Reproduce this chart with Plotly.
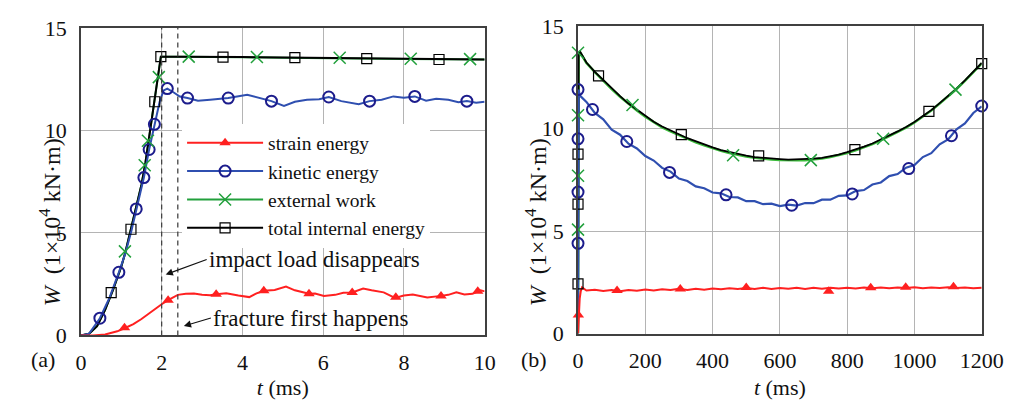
import plotly.graph_objects as go

FONT = "'Liberation Serif', 'Times New Roman', 'DejaVu Serif', serif"

# ---------------- Panel (a): 0-10 ms ----------------
a_ext_t = [0, 0.2, 0.4, 0.6, 0.8, 1.0, 1.1, 1.2, 1.3, 1.4, 1.5, 1.6, 1.7, 1.8, 1.9, 1.98,
           2.5, 3.0, 4.0, 5.0, 6.0, 7.0, 8.0, 9.0, 10.0]
a_ext_w = [0, 0.08, 0.45, 1.25, 2.25, 3.35, 4.05, 4.85, 5.65, 6.5, 7.35, 8.45, 9.8, 11.15, 12.4, 13.6,
           13.6, 13.58, 13.57, 13.55, 13.52, 13.5, 13.49, 13.47, 13.46]
a_tot_w = [0, 0.08, 0.45, 1.25, 2.25, 3.35, 4.05, 4.85, 5.65, 6.5, 7.35, 8.45, 9.8, 11.15, 12.4, 13.6,
           13.6, 13.6, 13.58, 13.56, 13.54, 13.52, 13.5, 13.48, 13.46]

a_kin_t = [0, 0.2, 0.47, 0.7, 0.94, 1.1, 1.25, 1.37, 1.47, 1.56, 1.69, 1.82, 1.95, 2.05, 2.14, 2.3,
           2.45, 2.64, 2.9, 3.2, 3.65, 4.12, 4.45, 4.72, 5.03, 5.3, 5.6, 5.9, 6.14, 6.45, 6.88, 7.15,
           7.45, 7.74, 8.0, 8.27, 8.55, 8.8, 9.1, 9.35, 9.56, 9.79, 10.0]
a_kin_w = [0, 0.08, 0.84, 1.8, 3.08, 4.0, 5.1, 6.17, 6.95, 7.7, 9.07, 10.3, 11.4, 11.95, 12.04, 11.85,
           11.65, 11.58, 11.45, 11.5, 11.58, 11.74, 11.55, 11.43, 11.2, 11.4, 11.5, 11.52, 11.63, 11.43, 11.28, 11.43,
           11.5, 11.66, 11.6, 11.66, 11.45, 11.55, 11.5, 11.38, 11.43, 11.35, 11.4]

a_str_t = [0, 0.3, 0.6, 0.9, 1.08, 1.3, 1.5, 1.7, 1.9, 2.0, 2.16, 2.3, 2.4, 2.6, 2.8, 3.0, 3.2, 3.35,
           3.6, 3.9, 4.17, 4.35, 4.53, 4.8, 5.08, 5.3, 5.65, 5.8, 6.02, 6.3, 6.5, 6.72, 6.99, 7.2, 7.5,
           7.78, 8.0, 8.22, 8.58, 8.92, 9.1, 9.3, 9.5, 9.7, 9.9, 10.0]
a_str_w = [0, 0, 0.05, 0.2, 0.35, 0.55, 0.8, 1.1, 1.4, 1.52, 1.72, 1.88, 1.98, 2.03, 2.05, 1.98, 1.96, 2.01,
           2.06, 1.95, 1.87, 2.05, 2.18, 2.22, 2.38, 2.2, 2.03, 2.05, 1.92, 1.98, 2.08, 2.1, 2.29, 2.2, 2.1,
           1.83, 1.95, 2.0, 1.85, 1.93, 1.98, 2.1, 2.0, 2.03, 2.2, 2.15]

a_ext_mt = [1.09, 1.58, 1.66, 1.93, 2.67, 4.36, 6.41, 8.17, 9.64]
a_ext_mw = [4.1, 8.3, 9.5, 12.6, 13.6, 13.58, 13.55, 13.5, 13.48]
a_tot_mt = [0.75, 1.24, 1.83, 1.98, 3.52, 5.3, 7.08, 8.87]
a_tot_mw = [2.09, 5.18, 11.4, 13.6, 13.58, 13.55, 13.5, 13.46]
a_kin_mt = [0.47, 0.94, 1.37, 1.56, 1.69, 1.82, 2.14, 2.64, 3.65, 4.72, 6.14, 7.15, 8.27, 9.56]
a_kin_mw = [0.84, 3.08, 6.17, 7.7, 9.07, 10.3, 12.04, 11.58, 11.58, 11.43, 11.63, 11.43, 11.66, 11.43]
a_str_mt = [1.08, 2.16, 3.35, 4.53, 5.65, 6.72, 7.80, 8.92, 9.83]
a_str_mw = [0.38, 1.72, 2.01, 2.18, 2.03, 2.1, 1.86, 1.93, 2.15]

event_t = [2.0, 2.4]   # impact load disappears, fracture first happens
event_labels = ["impact load disappears", "fracture first happens"]

# ---------------- Panel (b): 0-1200 ms ----------------
b_t = [0, 1, 2, 5, 25, 50, 75, 100, 125, 150, 175, 200, 225, 250, 275, 300, 325, 350, 375, 400,
       425, 450, 475, 500, 525, 550, 575, 600, 625, 650, 675, 700, 725, 750, 775, 800, 825, 850,
       875, 900, 925, 950, 975, 1000, 1025, 1050, 1075, 1100, 1125, 1150, 1175, 1200]
b_ext = [0, 3.4, 13.6, 13.75, 13.2, 12.75, 12.33, 11.93, 11.55, 11.2, 10.88, 10.58, 10.3, 10.06, 9.86,
         9.68, 9.5, 9.33, 9.18, 9.04, 8.92, 8.81, 8.72, 8.64, 8.58, 8.53, 8.49, 8.47, 8.45, 8.45, 8.46,
         8.49, 8.54, 8.61, 8.7, 8.81, 8.94, 9.08, 9.24, 9.42, 9.62, 9.83, 10.05, 10.3, 10.58, 10.88,
         11.22, 11.57, 11.93, 12.33, 12.74, 13.18]
b_tot = [0, 3.4, 13.6, 13.78, 13.22, 12.77, 12.36, 11.95, 11.58, 11.22, 10.91, 10.61, 10.33, 10.1, 9.89,
         9.72, 9.53, 9.37, 9.21, 9.08, 8.95, 8.85, 8.75, 8.68, 8.61, 8.57, 8.52, 8.51, 8.48, 8.49, 8.49,
         8.53, 8.57, 8.65, 8.73, 8.85, 8.97, 9.12, 9.27, 9.46, 9.65, 9.86, 10.08, 10.32, 10.61, 10.9,
         11.24, 11.59, 11.95, 12.35, 12.76, 13.2]
b_kin = [0, 3.1, 11.9, 11.62, 11.3, 10.76, 10.45, 9.95, 9.7, 9.26, 9.03, 8.66, 8.44, 8.08, 7.9,
         7.56, 7.44, 7.18, 7.09, 6.88, 6.84, 6.66, 6.64, 6.46, 6.46, 6.31, 6.34, 6.22, 6.29, 6.24, 6.37,
         6.36, 6.53, 6.53, 6.72, 6.74, 6.95, 7.0, 7.27, 7.37, 7.68, 7.78, 8.09, 8.22, 8.61, 8.8,
         9.23, 9.47, 9.96, 10.25, 10.76, 11.08]
b_str_t = [0, 2, 5, 8, 12, 25, 50, 75, 100, 125, 150, 175, 200, 225, 250, 275, 300, 325, 350, 375, 400,
           425, 450, 475, 500, 525, 550, 575, 600, 625, 650, 675, 700, 725, 750, 775, 800, 825, 850,
           875, 900, 925, 950, 975, 1000, 1025, 1050, 1075, 1100, 1125, 1150, 1175, 1200]
b_str = [0, 0.9, 1.7, 2.05, 2.25, 2.1, 2.14, 2.08, 2.13, 2.07, 2.12, 2.09, 2.15, 2.1, 2.16,
         2.12, 2.18, 2.13, 2.19, 2.14, 2.2, 2.16, 2.21, 2.17, 2.22, 2.18, 2.23, 2.18, 2.22, 2.19, 2.23,
         2.18, 2.23, 2.19, 2.24, 2.2, 2.24, 2.2, 2.25, 2.21, 2.25, 2.21, 2.25, 2.22, 2.26, 2.21,
         2.25, 2.22, 2.26, 2.22, 2.25, 2.21, 2.24]

b_ext_mt = [0, 0, 0, 0, 162, 461, 692, 907, 1122]
b_ext_mw = [13.7, 10.65, 7.7, 5.07, 11.15, 8.7, 8.46, 9.5, 11.9]
b_tot_mt = [0, 0, 0, 61, 307, 537, 823, 1043, 1200]
b_tot_mw = [8.75, 6.31, 2.42, 12.57, 9.7, 8.67, 8.97, 10.84, 13.17]
b_kin_mt = [0, 0, 0, 0, 43, 145, 272, 440, 635, 815, 983, 1110, 1200]
b_kin_mw = [11.9, 9.5, 6.9, 4.4, 10.93, 9.37, 7.86, 6.77, 6.26, 6.81, 8.05, 9.65, 11.1]
b_str_mt = [1, 116, 304, 500, 745, 870, 974, 1116]
b_str_mw = [0.9, 2.1, 2.17, 2.25, 2.06, 2.24, 2.26, 2.28]

series_names = ["strain energy", "kinetic energy", "external work", "total internal energy"]

RED = "#ff2020"
BLUE_L = "#2f4fb0"
BLUE_M = "#1c1c8c"
GREEN_A = "#22a03c"
GREEN_B = "#3cbc3c"
BLACK = "#000000"

mk = {
    "strain energy": dict(symbol="triangle-up", size=10, color=RED),
    "kinetic energy": dict(symbol="circle-open", size=11, color=BLUE_M, line=dict(width=2, color=BLUE_M)),
    "external work": dict(symbol="x-thin-open", size=12, color=GREEN_A, line=dict(width=1.5, color=GREEN_A)),
    "total internal energy": dict(symbol="square-open", size=10, color=BLACK, line=dict(width=1.2, color=BLACK)),
}

fig = go.Figure()

def add_line(x, y, color, width, xa, ya):
    fig.add_trace(go.Scatter(x=x, y=y, mode="lines", line=dict(color=color, width=width),
                             xaxis=xa, yaxis=ya, showlegend=False, hoverinfo="skip"))

def add_marks(x, y, name, xa, ya):
    fig.add_trace(go.Scatter(x=x, y=y, mode="markers", marker=mk[name], xaxis=xa, yaxis=ya,
                             showlegend=False, cliponaxis=False, hoverinfo="skip"))

# panel (a)
add_line(a_ext_t, a_ext_w, GREEN_A, 2, "x", "y")
add_line(a_ext_t, a_tot_w, BLACK, 2, "x", "y")
add_line(a_kin_t, a_kin_w, BLUE_L, 2, "x", "y")
add_line(a_str_t, a_str_w, RED, 2, "x", "y")
add_marks(a_str_mt, a_str_mw, "strain energy", "x", "y")
add_marks(a_kin_mt, a_kin_mw, "kinetic energy", "x", "y")
add_marks(a_ext_mt, a_ext_mw, "external work", "x", "y")
add_marks(a_tot_mt, a_tot_mw, "total internal energy", "x", "y")

# panel (b)
add_line(b_t, b_ext, GREEN_B, 2.5, "x2", "y2")
add_line(b_t, b_tot, BLACK, 1.8, "x2", "y2")
add_line(b_t, b_kin, BLUE_L, 2.2, "x2", "y2")
add_line(b_str_t, b_str, RED, 2, "x2", "y2")
add_marks(b_str_mt, b_str_mw, "strain energy", "x2", "y2")
add_marks(b_kin_mt, b_kin_mw, "kinetic energy", "x2", "y2")
add_marks(b_ext_mt, b_ext_mw, "external work", "x2", "y2")
add_marks(b_tot_mt, b_tot_mw, "total internal energy", "x2", "y2")

# legend entries
line_col = {"strain energy": RED, "kinetic energy": BLUE_L, "external work": GREEN_A,
            "total internal energy": BLACK}
for nm in series_names:
    fig.add_trace(go.Scatter(x=[None], y=[None], mode="lines+markers", name=nm,
                             line=dict(color=line_col[nm], width=2), marker=mk[nm],
                             xaxis="x", yaxis="y"))

# event dashed lines
for et in event_t:
    fig.add_shape(type="line", xref="x", yref="y domain", x0=et, x1=et, y0=0, y1=1,
                  line=dict(color="#444444", width=1.3, dash="5px,4px"))

axis_common = dict(showgrid=True, gridcolor="#b4b4b4", gridwidth=1, showline=True, mirror=True,
                   linecolor="#404040", linewidth=1.5, ticks="", zeroline=False,
                   tickfont=dict(family=FONT, size=22, color="#111111"))

fig.update_layout(
    width=1030, height=400,
    margin=dict(l=0, r=0, t=0, b=0),
    paper_bgcolor="white", plot_bgcolor="white",
    font=dict(family=FONT, size=22, color="#111111"),
    xaxis=dict(domain=[77/1030, 492/1030], range=[0, 10], tickvals=[0, 2, 4, 6, 8, 10],
               anchor="y", ticklabelstandoff=6,
               title=dict(text="<i>t</i> (ms)", standoff=9, font=dict(family=FONT, size=22)),
               **axis_common),
    yaxis=dict(domain=[55/400, 383/400], range=[0, 15], tickvals=[0, 5, 10, 15], anchor="x",
               ticklabelstandoff=8, **axis_common),
    xaxis2=dict(domain=[588/1030, 1003/1030], range=[0, 1200],
                tickvals=[0, 200, 400, 600, 800, 1000, 1200], anchor="y2", ticklabelstandoff=6,
                title=dict(text="<i>t</i> (ms)", standoff=9, font=dict(family=FONT, size=22)),
                **axis_common),
    yaxis2=dict(domain=[57/400, 385/400], range=[0, 15], tickvals=[0, 5, 10, 15], anchor="x2",
                ticklabelstandoff=8, **axis_common),
    legend=dict(x=181/1030, y=1 - 119/400, xanchor="left", yanchor="top", bgcolor="white",
                borderwidth=0, itemwidth=76, tracegroupgap=0,
                font=dict(family=FONT, size=19.5, color="#111111")),
)

ytitle = "<i>W</i>\u00a0\u00a0(1×10<sup>4</sup> kN·m)"
fig.add_annotation(x=28/1030, y=1 - 224/400, xref="paper", yref="paper", text=ytitle,
                   textangle=-90, showarrow=False, font=dict(family=FONT, size=24))
fig.add_annotation(x=545/1030, y=1 - 224/400, xref="paper", yref="paper", text=ytitle,
                   textangle=-90, showarrow=False, font=dict(family=FONT, size=24))
fig.add_annotation(x=24/1030, y=1 - 386/400, xref="paper", yref="paper", text="(a)",
                   showarrow=False, font=dict(family=FONT, size=22))
fig.add_annotation(x=543/1030, y=1 - 386/400, xref="paper", yref="paper", text="(b)",
                   showarrow=False, font=dict(family=FONT, size=22))

# event annotations: arrow head near the dashed line, text at the arrow tail
event_heads = [(2.1, 2.97, 41, -15), (2.55, 0.46, 27, -8)]
for (hx, hy, axp, ayp), lab in zip(event_heads, event_labels):
    fig.add_annotation(x=hx, y=hy, xref="x", yref="y", ax=axp, ay=ayp, text=lab,
                       xanchor="left", showarrow=True, arrowhead=2, arrowsize=1.2,
                       arrowwidth=1.2, arrowcolor="#111111", font=dict(family=FONT, size=23))

fig.write_html("out.html")
